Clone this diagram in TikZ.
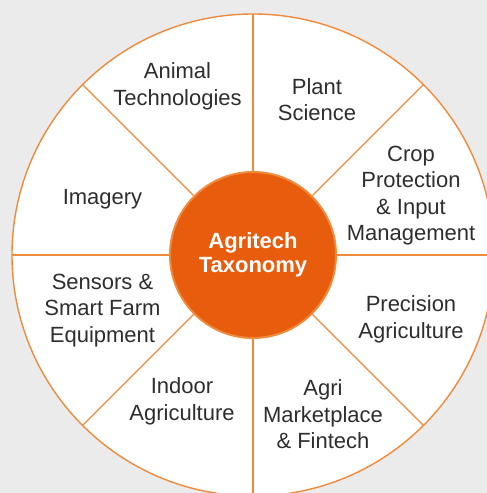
\documentclass[tikz,border=0pt]{standalone}
\usepackage{fontspec}
\setmainfont{Liberation Sans}
\usetikzlibrary{calc}
\definecolor{bg}{HTML}{EBEBEB}
\definecolor{rim}{HTML}{F08A3C}
\definecolor{hubfill}{HTML}{E85C0D}
\definecolor{txt}{HTML}{2E2E2E}
\tikzset{
  seg/.style={align=center, text=txt, font=\fontsize{22}{26.5}\selectfont, inner sep=0pt},
  spoke/.style={draw=rim, line width=1.4pt},
}
\begin{document}
\begin{tikzpicture}[x=1pt,y=-1pt]
\fill[bg] (0,0) rectangle (487,493);
\useasboundingbox (0,0) rectangle (487,493);
\clip (0,0) rectangle (487,493);
\coordinate (c) at (253,255);
\fill[white] (c) circle (241);
\draw[rim, line width=1.4pt] (c) circle (241);
\foreach \a in {0,45,...,315} {
  \coordinate (r\a) at ($(c)+(\a:241)$);
}
\node[circle, minimum size=166pt, fill=hubfill, draw=rim, line width=2pt, inner sep=0pt,
      text=white, font=\bfseries\fontsize{22}{24}\selectfont, align=center] (hub) at (c) {Agritech\\Taxonomy};
\foreach \a in {0,45,...,315} {
  \draw[spoke] (hub) -- (r\a);
}
\node[seg] (animal) at (177.5,86.5) {Animal\\Technologies};
\node[seg] (plant) at (317,99.5) {Plant\\Science};
\node[seg] (crop) at (411,195.5) {Crop\\Protection\\\& Input\\Management};
\node[seg] (imagery) at (102.5,199.5) {Imagery};
\node[seg] (sensors) at (102.5,310.5) {Sensors \&\\Smart Farm\\Equipment};
\node[seg] (precision) at (411,319.5) {Precision\\Agriculture};
\node[seg] (indoor) at (182,401.5) {Indoor\\Agriculture};
\node[seg] (agri) at (323,414.5) {Agri\\Marketplace\\\& Fintech};
\end{tikzpicture}
\end{document}
